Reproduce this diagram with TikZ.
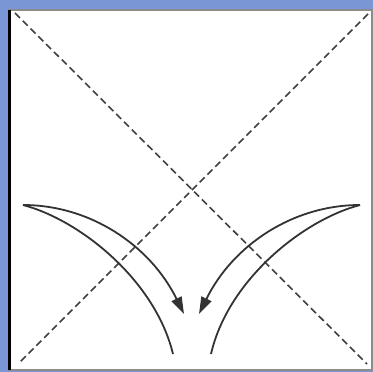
\documentclass[tikz,border=0pt]{standalone}
\usepackage{tikz}
\usetikzlibrary{arrows.meta}
\definecolor{frameblue}{RGB}{122,150,212}
\tikzset{
  fold/.style={draw=black!75,dashed,dash pattern=on 7pt off 4pt,line width=1.6pt},
  crease/.style={draw=black!80,line width=1.8pt},
  flap/.style={crease,-{Triangle[length=17pt,width=11pt]}}
}
\begin{document}
\begin{tikzpicture}[x=1pt,y=-1pt]
  % frame
  \fill[frameblue] (0,0) rectangle (373,372);
  \useasboundingbox (0,0) rectangle (373,372);
  \draw[fill=white,draw=black!45,line width=1.2pt] (9,10) rectangle (372,370);
  \draw[black,line width=2.4pt] (9.5,10) -- (9.5,370);

  % corners and centre
  \coordinate (tl) at (15,13);
  \coordinate (br) at (367,364);
  \coordinate (tr) at (368,14);
  \coordinate (bl) at (19,363);

  % diagonal folds
  \draw[fold] (tl) -- (br);
  \draw[fold] (tr) -- (bl);

  % left flap
  \coordinate (ltip) at (23,205);
  \coordinate (larr) at (184,314);
  \coordinate (lend) at (173,354);
  \draw[flap] (ltip) .. controls (90,205) and (150,245) .. (larr);
  \draw[crease] (ltip) .. controls (80,220) and (155,280) .. (lend);

  % right flap
  \coordinate (rtip) at (360,205);
  \coordinate (rarr) at (199,314);
  \coordinate (rend) at (211,354);
  \draw[flap] (rtip) .. controls (293,205) and (233,245) .. (rarr);
  \draw[crease] (rtip) .. controls (303,220) and (228,280) .. (rend);
\end{tikzpicture}
\end{document}
